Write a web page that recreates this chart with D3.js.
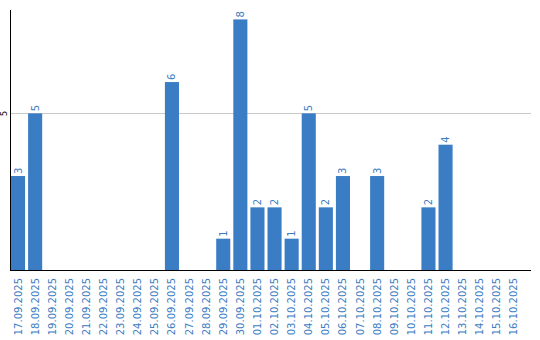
<!DOCTYPE html>
<html>
<head>
<meta charset="utf-8">
<script src="https://cdn.jsdelivr.net/npm/d3@7"></script>
<style>
body{margin:0;background:#fff;}
svg{display:block;font-family:"DejaVu Sans",sans-serif;}
</style>
</head>
<body>
<div id="plot"></div>
<script>
// dates and counts
var dates = ['17.09.2025','18.09.2025','19.09.2025','20.09.2025','21.09.2025','22.09.2025','23.09.2025','24.09.2025','25.09.2025','26.09.2025',
	'27.09.2025','28.09.2025','29.09.2025','30.09.2025','01.10.2025','02.10.2025','03.10.2025','04.10.2025','05.10.2025','06.10.2025',
	'07.10.2025','08.10.2025','09.10.2025','10.10.2025','11.10.2025','12.10.2025','13.10.2025','14.10.2025','15.10.2025','16.10.2025'];
var counts = [3,5,0,0,0,0,0,0,0,6, 0,0,1,8,2,2,1,5,2,3, 0,3,0,0,2,4,0,0,0,0];
var yTicks = [5];

var blue = '#3b7dc4';
var W = 540, H = 340;
var left = 11, axisY = 270, topY = 10;

var svg = d3.select('#plot').append('svg')
	.attr('width', W)
	.attr('height', H);

var x = d3.scaleBand()
	.domain(dates)
	.range([left, left + 17*dates.length])
	.paddingInner(3/17)
	.paddingOuter(0);

var y = d3.scaleLinear()
	.domain([0, 8.3])
	.range([axisY, topY]);

//grid line
svg.selectAll('.grid').data(yTicks).enter().append('line')
	.attr('x1', left).attr('x2', 531)
	.attr('y1', function(d){return Math.round(y(d))+0.5;})
	.attr('y2', function(d){return Math.round(y(d))+0.5;})
	.style('stroke','#c8c8c8');

//y tick labels
svg.selectAll('.ylab').data(yTicks).enter().append('text')
	.attr('transform', function(d){return 'translate(7,'+y(d)+') rotate(-90)';})
	.attr('text-anchor','middle')
	.style('font-size','8px')
	.style('fill','#000')
	.text(function(d){return d;});

//bars
svg.selectAll('.bar').data(dates).enter().append('rect')
	.attr('x', function(d){return x(d);})
	.attr('width', x.bandwidth())
	.attr('y', function(d,i){return y(counts[i]);})
	.attr('height', function(d,i){return axisY - y(counts[i]);})
	.style('fill', blue);

//value labels
svg.selectAll('.val').data(dates.filter(function(d,i){return counts[i]>0;})).enter().append('text')
	.attr('transform', function(d){
		var v = counts[dates.indexOf(d)];
		return 'translate('+(x(d)+x.bandwidth()/2+3.5)+','+(y(v)-2)+') rotate(-90)';
	})
	.style('font-size','10px')
	.style('fill', blue)
	.text(function(d){return counts[dates.indexOf(d)];});

//axes lines
svg.append('line')
	.attr('x1',10.5).attr('x2',10.5)
	.attr('y1',topY).attr('y2',axisY+1)
	.style('stroke','#000');
svg.append('line')
	.attr('x1',10).attr('x2',531)
	.attr('y1',axisY+0.5).attr('y2',axisY+0.5)
	.style('stroke','#000');

//x labels
svg.selectAll('.xlab').data(dates).enter().append('text')
	.attr('transform', function(d){return 'translate('+(x(d)+x.bandwidth()/2+3.5)+','+(axisY+8)+') rotate(-90)';})
	.attr('text-anchor','end')
	.style('font-size','10px')
	.style('fill', blue)
	.text(function(d){return d;});
</script>
</body>
</html>
